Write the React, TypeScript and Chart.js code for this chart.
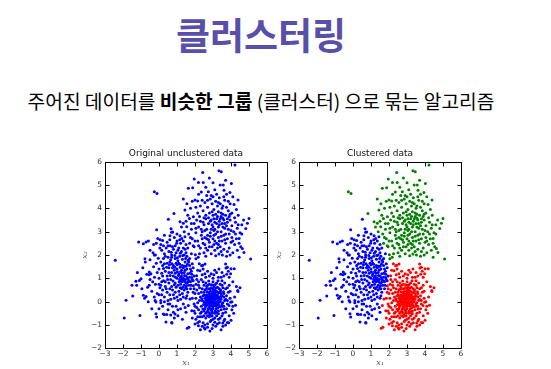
import { useEffect, useRef } from "react";
import { Chart, registerables } from "chart.js";

Chart.register(...registerables);

const slideTitle = "클러스터링";
const subtitleStart = "주어진 데이터를 ";
const subtitleBold = "비슷한 그룹";
const subtitleEnd = " (클러스터) 으로 묶는 알고리즘";

const leftTitle = "Original unclustered data";
const rightTitle = "Clustered data";
const xAxisLabel = "x\u2081";
const yAxisLabel = "x\u2082";

const xRange = [-3, 6];
const yRange = [-2, 6];

type P = [number, number];

const blueCluster: P[] = [
  [-2.43, 1.77], [-1.93, -0.7], [-1.83, 0.06], [-1.46, 0.24], [-1.06, -0.59], [-1.28, 0.87], [-1.24, 0.7], [-1.09, 0.91],
  [-1.0, 0.98], [-1.13, 2.56], [-0.87, 2.48], [-0.72, 2.56], [-0.59, 2.6], [-0.78, 1.84], [-0.76, 1.7], [-0.87, 0.27],
  [-0.8, 0.15], [-0.72, 0.22], [-0.54, 1.27], [-0.45, 1.2], [-0.63, 0.62], [-0.54, 0.7], [-0.68, 1.18], [-0.55, 1.15],
  [-0.26, 0.2], [-0.22, 0.05], [-0.17, -0.02], [-0.17, -0.52], [-0.13, -0.66], [-0.13, 3.08], [-0.26, 2.0], [-0.04, 1.86],
  [-0.33, 2.1], [-0.2, 2.0], [-0.07, 2.71], [-0.15, 2.5], [0.06, 2.65], [0.2, 2.62], [0.39, -0.87], [0.72, -0.92],
  [0.52, 3.53], [0.67, 3.13], [0.76, 2.99], [0.7, 2.97], [0.61, 2.83], [1.17, 2.83], [1.26, 2.71], [1.44, 2.78], [0.98, 2.5],
  [0.1, 2.45], [0.45, 2.55], [0.62, 2.4], [0.85, 2.75], [1.0, 2.6], [1.2, 2.5], [1.35, 2.6], [1.5, 2.45], [0.3, 2.85],
  [1.6, 2.3], [1.45, 2.25], [1.0, 2.9],
  [0.15, 2.2], [0.3, 2.05], [0.4, 2.3], [0.55, 2.15], [0.7, 2.0], [0.8, 2.25], [0.95, 2.1], [1.1, 2.3], [1.25, 2.15],
  [1.4, 2.0], [1.55, 1.95], [1.7, 1.85], [0.05, 2.3], [0.5, 1.9], [0.9, 1.85], [1.15, 1.95], [1.3, 1.82], [0.25, 1.85],
  [0.65, 1.8], [1.8, 2.05], [1.05, 2.2], [0.75, 2.35], [1.35, 2.3],
  [-0.3, 1.5], [-0.15, 1.65], [0.0, 1.4], [0.1, 1.7], [0.2, 1.55], [0.35, 1.3], [0.45, 1.65], [0.55, 1.45], [0.6, 1.7],
  [0.7, 1.25], [0.8, 1.55], [0.85, 1.35], [0.95, 1.65], [1.0, 1.4], [1.1, 1.2], [1.15, 1.6], [1.25, 1.35], [1.3, 1.55],
  [1.4, 1.25], [1.45, 1.7], [1.55, 1.4], [1.6, 1.2], [1.7, 1.55], [1.8, 1.3], [1.9, 1.45], [0.3, 1.62], [0.75, 1.45],
  [1.05, 1.75], [1.35, 1.45], [1.65, 1.7], [-0.1, 1.25], [0.15, 1.22], [1.2, 1.28], [1.5, 1.52], [0.9, 1.22], [1.75, 1.4],
  [1.45, 1.35], [1.0, 1.58], [1.85, 1.62],
  [-0.35, 0.85], [-0.2, 0.75], [0.0, 1.0], [0.1, 0.7], [0.25, 0.9], [0.35, 0.65], [0.45, 1.1], [0.55, 0.8], [0.65, 0.95],
  [0.7, 0.65], [0.8, 1.1], [0.9, 0.8], [1.0, 1.0], [1.05, 0.7], [1.15, 0.95], [1.2, 0.75], [1.25, 1.1], [1.3, 0.85],
  [1.35, 1.0], [1.4, 0.7], [1.45, 0.95], [1.5, 1.1], [1.55, 0.8], [1.6, 0.95], [1.65, 0.7], [1.7, 1.05], [1.75, 0.85],
  [1.85, 0.95], [1.95, 1.1], [1.2, 1.05], [1.38, 0.9], [1.48, 0.82], [1.58, 1.02], [0.95, 0.62], [0.2, 1.1], [1.82, 1.04],
  [1.9, 0.9], [1.32, 0.62], [1.12, 0.85], [1.52, 0.68], [1.28, 0.96], [1.62, 0.85],
  [-0.4, 0.45], [0.0, 0.3], [0.1, 0.05], [0.2, 0.5], [0.3, 0.2], [0.45, 0.4], [0.5, 0.05], [0.6, 0.3], [0.75, 0.5],
  [0.85, 0.15], [0.9, 0.4], [1.0, 0.2], [1.1, 0.45], [1.2, 0.1], [1.3, 0.35], [1.4, 0.5], [1.5, 0.15], [1.6, 0.4],
  [1.55, 0.25], [1.75, 0.55], [0.15, 0.3], [0.65, 0.1], [1.25, 0.55], [1.55, 0.55], [0.4, 0.55], [1.05, 0.05], [0.8, 0.3],
  [0.0, -0.3], [0.2, -0.2], [0.3, -0.55], [0.5, -0.35], [0.6, -0.1], [0.8, -0.45], [0.95, -0.2], [1.05, -0.6], [1.2, -0.3],
  [1.35, -0.1], [1.5, -0.45], [1.45, -0.25], [0.1, -0.05], [0.85, -0.7], [1.3, -0.75], [0.24, -0.53], [0.43, -0.55],
  [0.65, -0.57], [0.89, -0.53], [0.7, -0.89],
  [0.35, 1.95], [0.5, 2.4], [0.68, 2.12], [0.88, 1.98], [1.02, 1.88], [1.18, 2.08], [1.32, 1.98], [1.48, 1.85], [1.62, 1.78],
  [0.42, 1.48], [0.58, 1.58], [0.72, 1.62], [0.88, 1.48], [1.02, 1.28], [1.18, 1.48], [1.28, 1.22], [1.42, 1.52], [1.58, 1.6],
  [1.72, 1.22], [1.82, 1.18], [0.48, 0.95], [0.62, 1.12], [0.78, 0.88], [0.92, 1.05], [1.08, 1.12], [1.22, 0.88], [1.42, 1.12],
  [1.68, 0.9], [1.78, 0.7], [1.48, 0.58], [1.18, 0.6], [0.85, 0.72], [0.6, 0.55], [0.35, 0.85], [0.05, 0.6], [-0.1, 0.35],
  [-0.5, 0.95], [-0.9, 1.45], [-1.2, 1.25], [-1.5, 0.7], [-0.95, 0.55], [-0.6, 0.0], [-0.4, -0.3], [-0.5, 1.8], [-0.5, 2.2],
  [-0.3, 2.45], [0.25, 2.4], [0.6, 2.65], [0.9, 2.4], [1.15, 2.65], [0.5, -0.1], [0.75, -0.2], [1.15, 0.3], [1.35, 0.2],
  [1.05, -0.35], [0.3, 0.0], [0.15, 0.85], [0.0, 0.75], [-0.25, 1.05], [0.7, 1.9], [1.5, 2.1], [1.1, 1.65], [0.55, 1.25],
  [0.25, 1.42],
];

const greenCluster: P[] = [
  [4.22, 5.86], [3.33, 5.61], [3.46, 5.57], [2.43, 5.54], [3.7, 5.21], [3.57, 5.0], [4.02, 5.07], [1.96, 5.26], [2.19, 5.11],
  [2.46, 5.11], [1.63, 4.86], [1.87, 4.88], [3.94, 4.68], [3.61, 4.78], [2.74, 4.71], [2.9, 4.55], [4.39, 4.36], [1.35, 4.4],
  [2.0, 4.36], [2.15, 4.31], [3.1, 4.8], [3.2, 4.6], [2.6, 4.9], [3.35, 4.45], [2.35, 4.7], [-0.26, 4.71], [-0.11, 4.64],
  [1.44, 3.93], [0.83, 3.78], [1.91, 3.64], [2.3, 4.1], [2.45, 3.9], [2.55, 4.25], [2.7, 4.05], [2.8, 3.8], [2.95, 4.2],
  [3.05, 3.95], [3.15, 4.3], [3.25, 4.1], [3.3, 3.85], [3.4, 4.2], [3.5, 4.0], [3.55, 3.75], [3.65, 4.35], [3.75, 4.05],
  [3.85, 3.9], [3.95, 4.2], [4.05, 3.8], [4.17, 4.17], [4.3, 3.95], [2.15, 3.8], [1.75, 4.0], [2.6, 3.7], [3.0, 3.7],
  [3.45, 3.65], [3.9, 3.65], [4.4, 3.7], [2.05, 4.05], [1.6, 3.7], [2.85, 4.4], [3.6, 4.5], [3.15, 3.75],
  [1.69, 3.57], [2.09, 3.5], [1.17, 3.43], [1.35, 3.36], [1.54, 3.21], [1.8, 3.1], [1.95, 3.35], [2.2, 3.2], [2.3, 3.45],
  [2.4, 3.0], [2.5, 3.3], [2.6, 3.55], [2.65, 3.1], [2.75, 3.35], [2.85, 2.95], [2.9, 3.5], [3.0, 3.2], [3.1, 3.4],
  [3.15, 2.9], [3.2, 3.55], [3.3, 3.2], [3.35, 3.45], [3.45, 3.0], [3.5, 3.35], [3.6, 3.5], [3.65, 3.15], [3.7, 2.9],
  [3.8, 3.4], [3.85, 3.1], [3.95, 3.5], [4.05, 3.25], [4.15, 3.0], [4.25, 3.4], [4.35, 3.15], [5.0, 3.57], [4.91, 3.36],
  [4.82, 3.14], [4.6, 3.3], [4.5, 2.95], [1.4, 3.0], [1.65, 2.9], [2.05, 2.95], [2.45, 3.4], [2.7, 2.85], [3.25, 3.0],
  [3.55, 3.58], [3.05, 3.05], [2.95, 3.3], [3.75, 3.25], [2.35, 3.1], [1.25, 3.2], [4.7, 3.5],
  [4.45, 2.71], [4.54, 2.35], [4.63, 2.28], [4.72, 2.11], [5.09, 1.83], [4.45, 1.9], [1.7, 2.5], [1.85, 2.7], [1.95, 2.35],
  [2.02, 2.01], [2.05, 1.84], [2.18, 1.9], [2.15, 2.6], [2.3, 2.3], [2.4, 2.7], [2.5, 2.1], [2.55, 2.45], [2.65, 2.7],
  [2.7, 2.2], [2.8, 2.55], [2.9, 2.05], [2.95, 2.35], [3.0, 2.7], [3.1, 2.2], [3.15, 1.97], [3.2, 2.5], [3.3, 2.75],
  [3.33, 2.04], [3.4, 2.35], [3.5, 2.6], [3.52, 2.0], [3.6, 2.25], [3.7, 2.5], [3.75, 1.95], [3.8, 2.7], [3.9, 2.3],
  [4.0, 2.55], [4.1, 2.1], [4.2, 2.45], [4.3, 2.7], [4.35, 2.2], [2.25, 2.05], [2.6, 1.95], [3.05, 2.45], [3.45, 2.8],
  [3.65, 2.65], [3.95, 2.0], [2.85, 2.8], [2.45, 2.5], [3.25, 2.3], [4.05, 2.75], [1.9, 2.4],
  [2.5, 3.6], [2.75, 3.6], [3.05, 3.55], [3.25, 3.65], [3.45, 3.8], [3.7, 3.7], [3.8, 3.55], [3.35, 3.3], [3.55, 3.2],
  [3.2, 3.35], [2.9, 3.1], [2.55, 3.05], [2.35, 2.85], [2.55, 2.75], [2.8, 2.35], [3.05, 2.85], [3.35, 2.6], [3.6, 2.85],
  [3.9, 2.9], [4.1, 2.6], [3.8, 2.15], [3.45, 2.15], [3.1, 2.6], [2.75, 2.65], [2.2, 2.4], [2.0, 2.6], [2.05, 3.15],
  [2.25, 3.65], [2.4, 4.35], [2.7, 4.35], [3.0, 4.5], [3.3, 4.25], [3.55, 4.1], [3.85, 4.3], [4.1, 4.5], [4.2, 3.6],
  [4.4, 3.3], [4.45, 2.5], [4.6, 2.9], [3.0, 5.1], [2.8, 5.3], [3.4, 5.0], [2.2, 4.6], [1.85, 4.3], [1.55, 4.2], [1.5, 3.45],
  [1.8, 3.35], [1.75, 2.75], [4.0, 3.05], [3.95, 3.75], [2.65, 4.55], [3.75, 4.6], [4.25, 2.9], [3.3, 2.45], [2.6, 2.3],
  [2.95, 3.85], [3.1, 3.1], [3.4, 3.55], [2.85, 3.45], [3.65, 3.35],
];

const redCluster: P[] = [
  [2.24, 1.63], [2.43, 1.56], [2.37, 1.54], [2.56, 1.61], [3.72, 1.44], [4.0, 1.41], [4.18, 1.41], [3.7, 1.61], [3.8, 1.47],
  [3.33, 1.4], [3.76, 1.18], [4.37, 0.48], [4.39, 0.43], [3.98, -0.03], [3.89, -0.17], [3.8, -0.89], [3.61, -0.82],
  [3.24, -0.96], [2.83, -1.26], [2.52, -1.13], [3.54, -0.92], [3.87, -0.9], [1.57, -1.14], [1.66, -1.1], [2.0, -0.96],
  [2.19, -1.03], [2.56, -1.17], [2.28, 1.33], [2.09, 1.11], [2.06, 0.75], [1.91, 0.68], [1.9, 0.4], [1.72, 0.11],
  [1.63, -0.17], [1.82, -0.39], [2.9, 1.2], [3.1, 1.35], [2.7, 1.3], [3.5, 1.25],
  [2.95, 0.1], [3.05, 0.2], [2.85, 0.0], [3.1, -0.05], [2.8, 0.25], [3.2, 0.15], [2.9, -0.15], [3.0, 0.35], [2.7, 0.1],
  [3.15, -0.2], [2.75, -0.1], [3.25, 0.3], [2.65, 0.3], [3.3, -0.05], [2.6, -0.05], [3.0, -0.3], [2.85, 0.45], [3.1, 0.5],
  [3.35, 0.2], [2.55, 0.15], [2.95, 0.25], [3.05, -0.1], [2.88, 0.18], [3.12, 0.08], [2.78, -0.25], [3.22, -0.12],
  [2.68, 0.42], [3.32, 0.38], [2.92, -0.38], [3.08, 0.4], [2.82, 0.32], [3.18, -0.32], [2.72, -0.38], [3.38, -0.22],
  [2.58, -0.22], [2.98, 0.02], [3.02, 0.15], [2.9, 0.05], [3.15, 0.25], [2.8, -0.05], [3.28, 0.05], [2.62, 0.05],
  [3.45, 0.1], [2.5, 0.0], [3.0, 0.55], [2.95, -0.5], [3.4, 0.45], [2.55, 0.5], [3.45, -0.35], [2.5, -0.4],
  [2.3, 0.2], [2.35, -0.2], [2.4, 0.55], [2.25, 0.6], [2.3, -0.5], [2.4, -0.65], [2.6, -0.7], [2.8, -0.65], [3.0, -0.75],
  [3.2, -0.6], [3.4, -0.7], [3.55, -0.5], [3.6, -0.2], [3.65, 0.05], [3.6, 0.35], [3.55, 0.6], [3.4, 0.75], [3.2, 0.8],
  [3.0, 0.85], [2.8, 0.75], [2.6, 0.8], [2.45, 0.85], [2.2, 0.35], [2.15, -0.05], [2.2, -0.35], [3.7, -0.45], [3.75, 0.25],
  [3.7, 0.55], [2.65, 0.65], [3.25, 0.62], [2.85, -0.85], [3.1, -0.88], [2.45, -0.9], [3.35, -0.9], [3.5, 0.9], [2.35, 0.95],
  [3.8, -0.1], [3.85, 0.4], [2.1, 0.5], [2.05, 0.15], [2.1, -0.25], [2.15, -0.65], [3.65, -0.75], [2.7, -0.95], [3.0, 1.0],
  [3.3, 1.05], [2.6, 1.05], [2.2, 0.85], [3.9, 0.7], [3.95, 0.15], [4.05, -0.35], [3.9, -0.6], [2.0, -0.5], [2.05, -0.75],
  [2.25, -0.85], [2.55, -1.0], [3.15, -1.05], [3.55, -1.05], [2.0, 0.35], [1.95, -0.1], [2.4, 1.15], [2.8, 1.1], [3.6, 1.1],
  [3.9, 1.05], [4.1, 0.85], [4.2, 0.2], [4.15, -0.5], [4.0, -0.8], [3.45, -1.2], [2.95, -1.15], [2.3, -1.2], [1.85, -0.7],
  [1.85, 0.15], [4.5, 0.6], [2.15, 1.35], [3.85, 1.3], [3.2, 1.25],
  [2.93, 0.12], [3.07, -0.02], [2.87, 0.22], [3.13, 0.32], [2.77, 0.05], [3.23, -0.02], [2.83, -0.2], [3.03, -0.18],
  [2.73, 0.2], [3.27, 0.18], [2.97, 0.42], [2.67, -0.15], [3.33, -0.15], [2.63, 0.22], [3.17, 0.45], [2.87, -0.32],
  [3.07, 0.62], [2.9, 0.6], [3.4, 0.0], [2.45, 0.25], [2.48, -0.12], [3.5, 0.25], [3.55, -0.05], [2.75, 0.55], [3.2, -0.45],
  [2.8, -0.48], [3.1, -0.5], [2.6, -0.5], [3.35, 0.55], [2.5, 0.4], [3.0, 0.7], [2.7, 0.7], [3.3, -0.4], [2.4, 0.05],
  [3.6, 0.2], [2.95, -0.62], [3.45, 0.35], [2.35, 0.4], [2.55, -0.3], [3.5, -0.2],
  [2.92, 0.32], [3.08, 0.28], [2.78, 0.38], [3.22, 0.42], [2.68, -0.02], [3.36, 0.1], [2.98, -0.22], [3.14, -0.12],
  [2.84, -0.08], [3.26, -0.26], [2.74, -0.3], [3.04, 0.48], [2.86, 0.56], [3.18, 0.58], [2.64, 0.12], [3.44, 0.22],
  [2.56, -0.12], [3.5, -0.1], [2.96, -0.44], [3.12, -0.4], [2.82, -0.56], [3.3, -0.52], [2.66, -0.44], [2.52, 0.28],
  [3.42, 0.5], [2.62, 0.54], [3.58, 0.42], [2.44, -0.32], [3.62, -0.32], [2.38, 0.12], [3.7, 0.1], [2.92, 0.72], [3.12, 0.74],
  [2.76, 0.88], [3.28, 0.9], [2.5, 0.7], [3.5, 0.7], [2.36, -0.44], [2.5, -0.6], [2.7, -0.6], [2.9, -0.8], [3.1, -0.7],
  [3.3, -0.75], [3.5, -0.6], [3.75, -0.3], [3.8, 0.05], [3.8, 0.6], [3.65, 0.8], [2.25, 0.05], [2.28, -0.65], [2.2, 0.7],
  [2.0, -0.2], [2.1, 0.95], [2.55, 1.2], [3.05, 1.15], [3.45, 1.05], [3.95, 0.45], [4.05, 0.0], [4.1, -0.2], [3.7, -1.0],
  [3.0, -1.0], [2.7, -1.1], [2.4, -1.05], [2.15, -0.9], [1.95, -0.4], [1.95, 0.55], [4.3, 0.65], [4.25, -0.15], [3.98, 1.2],
  [2.45, 1.4], [2.98, 0.18], [3.02, -0.08], [2.88, 0.08], [3.16, 0.14], [2.84, 0.14], [3.08, 0.12], [2.94, -0.04],
  [2.76, 0.16], [3.24, 0.22],
];

const BLUE = "#0000ff";
const GREEN = "#008000";
const RED = "#ff0000";

const tickLabel = (v: number | string) => {
  const n = Number(v);
  return n < 0 ? "\u2212" + Math.abs(n) : String(n);
};

const framePlugin = {
  id: "mplFrame",
  afterDatasetsDraw(chart: any) {
    const { ctx, chartArea: a, scales } = chart;
    const L = Math.round(a.left) + 0.5;
    const R = Math.round(a.right) + 0.5;
    const T = Math.round(a.top) + 0.5;
    const B = Math.round(a.bottom) + 0.5;
    ctx.save();
    ctx.strokeStyle = "#000";
    ctx.lineWidth = 1;
    ctx.beginPath();
    ctx.rect(L, T, R - L, B - T);
    const len = 4;
    for (const t of scales.x.ticks) {
      const px = Math.round(scales.x.getPixelForValue(t.value)) + 0.5;
      ctx.moveTo(px, B);
      ctx.lineTo(px, B - len);
      ctx.moveTo(px, T);
      ctx.lineTo(px, T + len);
    }
    for (const t of scales.y.ticks) {
      const py = Math.round(scales.y.getPixelForValue(t.value)) + 0.5;
      ctx.moveTo(L, py);
      ctx.lineTo(L + len, py);
      ctx.moveTo(R, py);
      ctx.lineTo(R - len, py);
    }
    ctx.stroke();
    ctx.restore();
  },
};

const toPts = (arr: P[]) => arr.map(([x, y]) => ({ x, y }));

function makeDataset(arr: P[], color: string) {
  return {
    data: toPts(arr),
    backgroundColor: color,
    borderColor: color,
    borderWidth: 0,
    pointRadius: 1.5,
    pointHoverRadius: 1.5,
  };
}

function makeOptions(title: string) {
  const tickFont = { family: "DejaVu Sans", size: 7.5 };
  const axisTitleFont = { family: "DejaVu Serif", size: 8, style: "italic" as const };
  return {
    animation: false as const,
    responsive: false,
    devicePixelRatio: 1,
    events: [],
    layout: { padding: { left: 0, right: 13, top: 0, bottom: 0 } },
    plugins: {
      legend: { display: false },
      tooltip: { enabled: false },
      title: {
        display: true,
        fullSize: false,
        text: title,
        color: "#111",
        font: { family: "DejaVu Sans", size: 9, weight: "normal" as const },
        padding: { top: 8.5, bottom: 2.4 },
      },
    },
    scales: {
      x: {
        type: "linear" as const,
        min: xRange[0],
        max: xRange[1],
        grid: { display: false, drawTicks: false },
        border: { display: false },
        ticks: { stepSize: 1, autoSkip: false, padding: 1, color: "#333", font: tickFont, callback: tickLabel },
        title: { display: true, text: xAxisLabel, color: "#555", font: axisTitleFont, padding: { top: 0, bottom: 1.5 } },
        afterFit: (s: any) => {
          s.height = 20.7;
        },
      },
      y: {
        type: "linear" as const,
        min: yRange[0],
        max: yRange[1],
        grid: { display: false, drawTicks: false },
        border: { display: false },
        ticks: { stepSize: 1, autoSkip: false, padding: 3, color: "#333", font: tickFont, callback: tickLabel },
        title: { display: true, text: yAxisLabel, color: "#555", font: axisTitleFont, padding: { top: 9.9, bottom: 0 } },
        afterFit: (s: any) => {
          s.width = 35;
        },
      },
    },
  };
}

function ScatterPanel({ left, title, datasets }: { left: number; title: string; datasets: any[] }) {
  const ref = useRef<HTMLCanvasElement | null>(null);
  useEffect(() => {
    if (!ref.current) return;
    const chart = new Chart(ref.current, {
      type: "scatter",
      data: { datasets },
      options: makeOptions(title) as any,
      plugins: [framePlugin],
    });
    return () => chart.destroy();
  }, []);
  return (
    <canvas
      ref={ref}
      width={210}
      height={229}
      style={{ position: "absolute", left, top: 140, width: 210, height: 229 }}
    />
  );
}

export default function App() {
  const allPoints = [...blueCluster, ...greenCluster, ...redCluster];
  return (
    <div style={{ position: "fixed", left: 0, top: 0, width: 551, height: 369, background: "#fff", overflow: "hidden" }}>
      <div
        style={{
          position: "absolute",
          left: 0,
          width: 522,
          top: 16.2,
          textAlign: "center",
          fontFamily: "'Noto Sans CJK KR', sans-serif",
          fontWeight: 700,
          fontSize: 37,
          lineHeight: "37px",
          color: "#5850a8",
          whiteSpace: "nowrap",
        }}
      >
        {slideTitle}
      </div>
      <div
        style={{
          position: "absolute",
          left: 0,
          width: 522,
          top: 92.3,
          textAlign: "center",
          fontFamily: "'Noto Sans CJK KR', sans-serif",
          fontSize: 19.2,
          lineHeight: "19.2px",
          color: "#000",
          whiteSpace: "nowrap",
        }}
      >
        {subtitleStart}
        <b>{subtitleBold}</b>
        {subtitleEnd}
      </div>
      <ScatterPanel left={70} title={leftTitle} datasets={[makeDataset(allPoints, BLUE)]} />
      <ScatterPanel
        left={264}
        title={rightTitle}
        datasets={[makeDataset(blueCluster, BLUE), makeDataset(greenCluster, GREEN), makeDataset(redCluster, RED)]}
      />
    </div>
  );
}
